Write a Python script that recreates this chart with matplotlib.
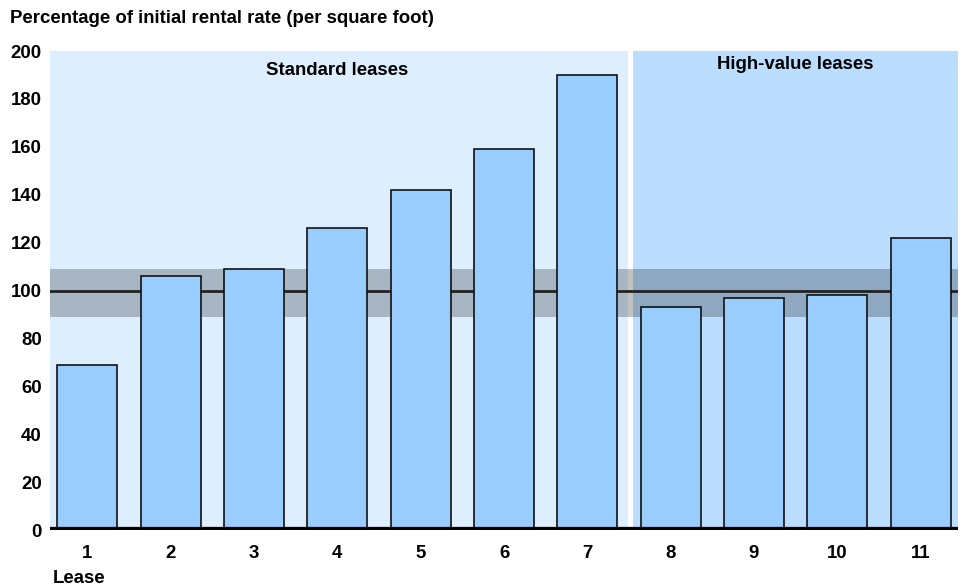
import matplotlib.pyplot as plt

plt.rcParams['font.family'] = ['Liberation Sans', 'DejaVu Sans']
plt.rcParams['font.weight'] = 'bold'

leases = [1, 2, 3, 4, 5, 6, 7, 8, 9, 10, 11]
pct_of_initial = [69, 106, 109, 126, 142, 159, 190, 93, 97, 98, 122]
y_ticks = [0, 20, 40, 60, 80, 100, 120, 140, 160, 180, 200]
band_low, band_high = 89, 109
baseline = 100
split_at = 7.5

fig = plt.figure(figsize=(9.67, 5.88), dpi=100)
ax = fig.add_axes([0.0517, 0.0986, 0.939, 0.8146])

x_min, x_max = 0.55, 11.45
# group backgrounds
ax.axvspan(x_min, split_at - 0.01, ymin=0, ymax=1, color='#ddeeff', lw=0, zorder=0)
ax.axvspan(split_at + 0.05, x_max, ymin=0, ymax=1, color='#bbddff', lw=0, zorder=0)

# +/- 10% band and 100 line
ax.axhspan(band_low, band_high, color='black', alpha=0.24, lw=0, zorder=1)
ax.axhline(baseline, color='#222222', lw=2, zorder=2)

ax.bar(leases, pct_of_initial, width=0.72, color='#99ccff', edgecolor='#111111', lw=1.2, zorder=3)
ax.axhline(0, color='black', lw=4.5, zorder=4)

ax.text(4, 192, 'Standard leases', ha='center', va='center', fontsize=13.4, fontweight='bold')
ax.text(9.5, 194.5, 'High-value leases', ha='center', va='center', fontsize=13.4, fontweight='bold')

ax.set_xlim(x_min, x_max)
ax.set_ylim(0, 200)
ax.set_xticks(leases)
ax.set_xticklabels([str(l) for l in leases])
ax.set_yticks(y_ticks)
ax.tick_params(length=0, labelsize=13.4, pad=6)
ax.tick_params(axis='x', pad=11)
for s in ax.spines.values():
    s.set_visible(False)

fig.text(0.01, 0.969, 'Percentage of initial rental rate (per square foot)', fontsize=13.4, fontweight='bold', va='center')
fig.text(0.055, 0.017, 'Lease', fontsize=13.4, fontweight='bold', va='center')

fig.savefig('out.png', dpi=100)
